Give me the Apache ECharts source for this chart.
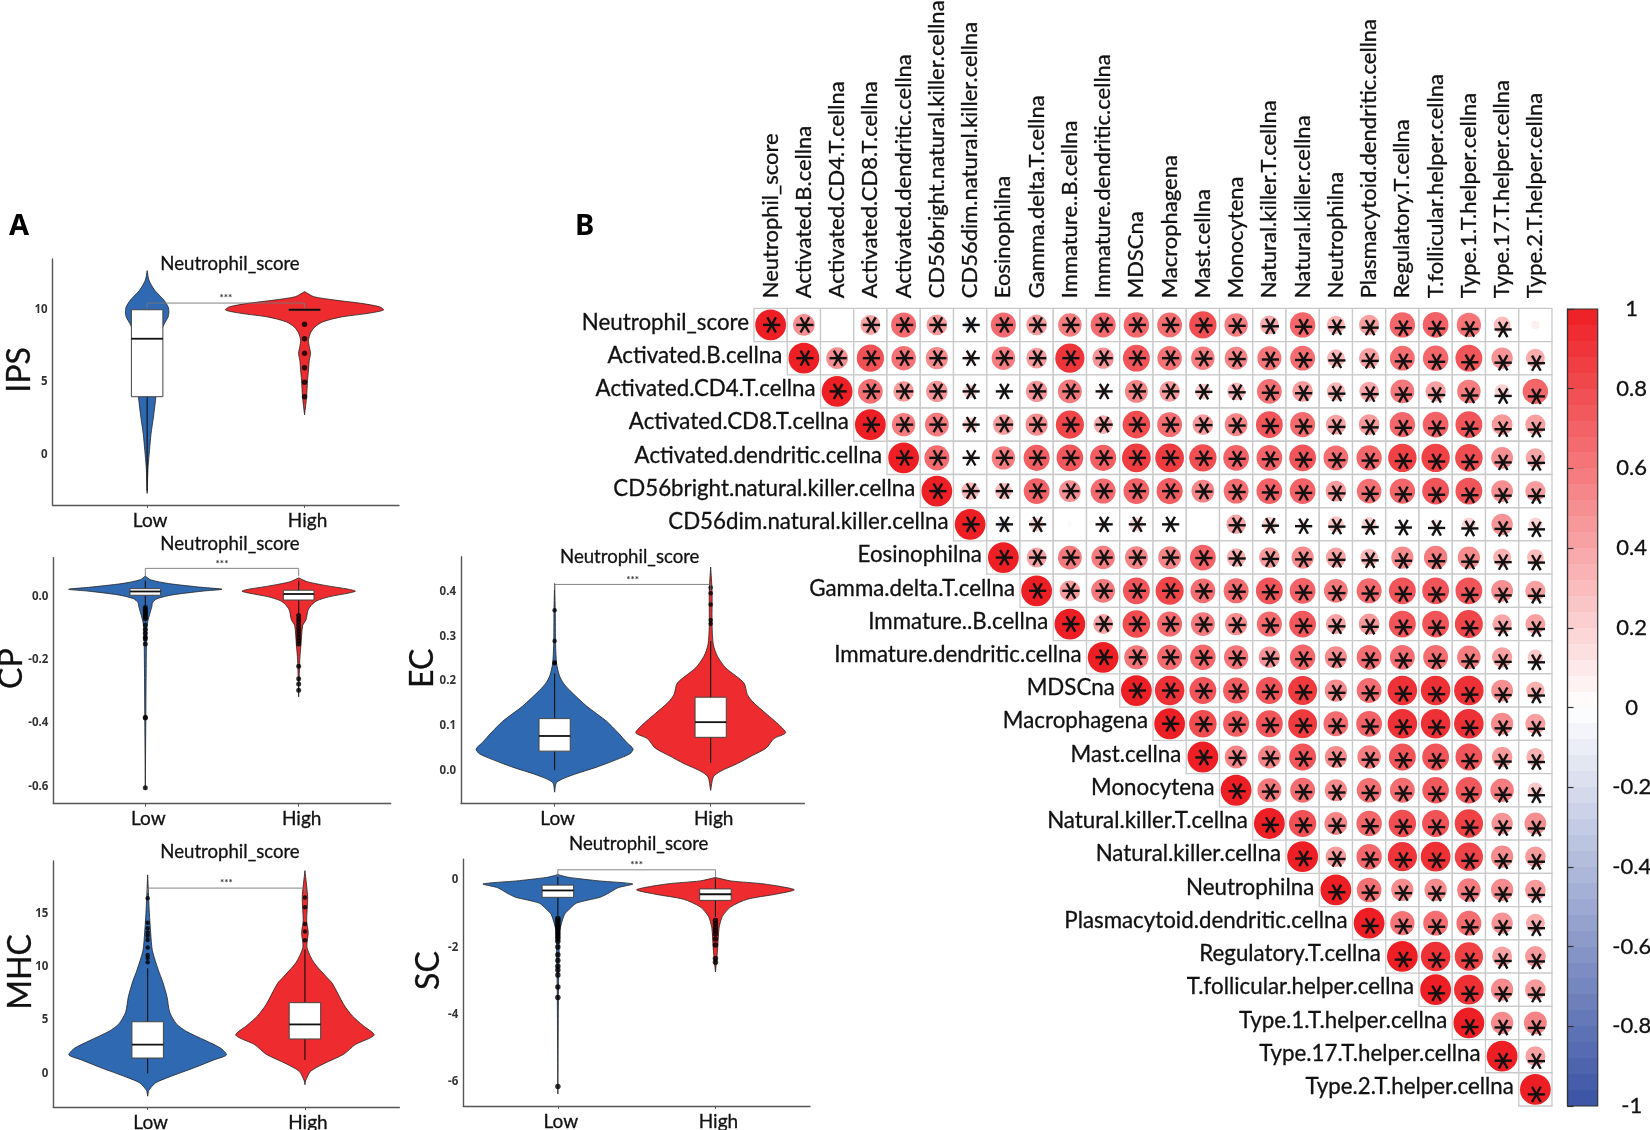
<!DOCTYPE html>
<html>
<head>
<meta charset="utf-8">
<style>html,body{margin:0;padding:0;background:#fff}#chart{width:1650px;height:1130px}</style>
<script src="https://cdn.jsdelivr.net/npm/echarts@6/dist/echarts.min.js"></script>
</head>
<body>
<div id="chart"></div>
<script>
const groupLabels = ['Low', 'High'];
const panelTitle = 'Neutrophil_score';

// violin outlines: [value, half width in group units]
const ipsLowProfile = [[12.7,0],[12.05,.011],[11.36,.047],[10.67,.106],[10.2,.133],[9.86,.138],[9.5,.133],[9.05,.110],[8.4,.085],[6.07,.064],[4,.055],[2.6,.040],[1.47,.025],[.3,.015],[-.83,.006],[-2.67,0]];
const ipsHighProfile = [[11.25,0],[10.9,.059],[10.67,.191],[10.44,.36],[10.2,.477],[9.98,.502],[9.75,.403],[9.5,.233],[9.17,.117],[8.8,.064],[8.4,.038],[7.9,.025],[7.45,.03],[7,.038],[6.5,.03],[5.84,.025],[5.15,.019],[4,.013],[2.75,0]];
const cpLowProfile = [[.065,0],[.053,.033],[.041,.152],[.029,.37],[.023,.5],[.017,.37],[.005,.174],[-.007,.076],[-.019,.048],[-.031,.043],[-.067,.022],[-.092,.011],[-.152,.007],[-.61,0]];
const cpHighProfile = [[.059,0],[.047,.054],[.035,.174],[.023,.326],[.017,.37],[.011,.326],[-.001,.196],[-.013,.12],[-.025,.087],[-.043,.061],[-.073,.048],[-.092,.026],[-.152,.015],[-.2,.007],[-.317,0]];
const mhcLowProfile = [[18.6,0],[16.5,.006],[15,.011],[13.2,.019],[11.5,.03],[9.67,.068],[8.6,.095],[7.16,.123],[5.73,.14],[4.65,.182],[3.94,.245],[3.04,.372],[2.33,.467],[1.72,.501],[1.25,.42],[.54,.3],[-.36,.135],[-.9,.05],[-1.6,.008],[-2.15,0]];
const mhcHighProfile = [[19,0],[16.5,.017],[14.3,.011],[13.2,.021],[11.8,.013],[10.38,.057],[8.95,.142],[8.41,.175],[6.44,.247],[5.37,.302],[4.47,.37],[3.58,.44],[2.69,.32],[1.79,.247],[.9,.12],[.18,.036],[-.72,.004],[-1.07,0]];
const ecLowProfile = [[.419,0],[.359,.004],[.282,.006],[.239,.013],[.213,.03],[.196,.055],[.179,.098],[.144,.205],[.11,.333],[.084,.407],[.063,.461],[.048,.503],[.037,.482],[.024,.397],[.007,.269],[-.01,.119],[-.027,.013],[-.049,0]];
const ecHighProfile = [[.456,0],[.402,.009],[.324,.009],[.282,.017],[.256,.043],[.23,.096],[.196,.213],[.17,.235],[.153,.271],[.127,.356],[.101,.441],[.084,.48],[.071,.405],[.05,.356],[.033,.267],[.015,.171],[-.002,.064],[-.015,.017],[-.045,0]];
const scLowProfile = [[.17,0],[.136,.021],[.08,.072],[-.023,.263],[-.114,.475],[-.227,.381],[-.398,.318],[-.511,.267],[-.682,.119],[-.852,.076],[-1.02,.042],[-1.53,.011],[-2.1,.008],[-3.24,.004],[-6.36,0]];
const scHighProfile = [[.08,0],[-.023,.097],[-.114,.309],[-.284,.5],[-.42,.381],[-.568,.203],[-.795,.097],[-1.08,.044],[-1.42,.023],[-2.1,.013],[-2.73,0]];

// boxes: [lower whisker, q1, median, q3, upper whisker]
const ipsLowBox = [-2.5, 4, 8, 10, 10];
const ipsHighBox = [10, 10, 10, 10, 10];
const cpLowBox = [-.03, .004, .016, .025, .05];
const cpHighBox = [-.055, -.011, .008, .02, .05];
const mhcLowBox = [0, 1.43, 2.69, 4.83, 9.85];
const mhcHighBox = [1.25, 3.22, 4.58, 6.62, 11.6];
const ecLowBox = [0, .043, .077, .116, .217];
const ecHighBox = [.017, .074, .108, .164, .29];
const scLowBox = [-1.06, -.511, -.307, -.148, .11];
const scHighBox = [-1.1, -.602, -.42, -.261, .05];

// outliers
const ipsLowOutliers = [];
const ipsHighOutliers = [9, 8, 7, 6, 5, 4];
const cpLowOutliers = [-.035,-.04,-.045,-.05,-.055,-.06,-.065,-.07,-.09,-.104,-.116,-.128,-.134,-.15,-.381,-.384,-.604];
const cpHighOutliers = [-.06,-.07,-.08,-.09,-.1,-.11,-.12,-.13,-.14,-.15,-.22,-.26,-.276,-.296];
const mhcLowOutliers = [16.4,14.1,13.6,13.2,12.9,12.5,11.8,11.1,10.8,10.4];
const mhcHighOutliers = [16.47,15.57,14,13.3,12.46];
const ecLowOutliers = [.359,.29,.242,.24];
const ecHighOutliers = [.41,.397,.372,.337,.329];
const scLowOutliers = [-1.14,-1.2,-1.27,-1.34,-1.4,-1.47,-1.54,-1.6,-1.67,-1.74,-1.82,-1.99,-2.22,-2.39,-2.56,-2.67,-2.82,-3.18,-3.49,-6.14];
const scHighOutliers = [-1.2,-1.3,-1.4,-1.5,-1.6,-1.75,-1.93,-2.33,-2.44];

// axis ticks
const ipsTicks = [0, 5, 10];
const cpTicks = [-.6, -.4, -.2, 0];
const mhcTicks = [0, 5, 10, 15];
const ecTicks = [0, .1, .2, .3, .4];
const scTicks = [-6, -4, -2, 0];

// significance brackets: [level, tip end]
const ipsBracket = [10.46, 10.1];
const cpBracket = [.089, .065];
const mhcBracket = [17.36, 16.9];
const ecBracket = [.417, .405];
const scBracket = [.307, .1];

// correlation matrix
const cellTypes = ['Neutrophil_score','Activated.B.cellna','Activated.CD4.T.cellna','Activated.CD8.T.cellna','Activated.dendritic.cellna','CD56bright.natural.killer.cellna','CD56dim.natural.killer.cellna','Eosinophilna','Gamma.delta.T.cellna','Immature..B.cellna','Immature.dendritic.cellna','MDSCna','Macrophagena','Mast.cellna','Monocytena','Natural.killer.T.cellna','Natural.killer.cellna','Neutrophilna','Plasmacytoid.dendritic.cellna','Regulatory.T.cellna','T.follicular.helper.cellna','Type.1.T.helper.cellna','Type.17.T.helper.cellna','Type.2.T.helper.cellna'];
const corrRows = [
 [1,.5,-.01,.42,.66,.45,-.15,.66,.45,.58,.66,.68,.65,.79,.58,.38,.68,.35,.43,.68,.7,.62,.3,.07],
 [1,.5,.78,.63,.52,.12,.58,.45,.9,.48,.76,.63,.58,.55,.61,.65,.33,.43,.65,.68,.76,.48,.37],
 [1,.64,.45,.48,.2,.08,.48,.6,.13,.55,.45,.25,.33,.64,.45,.35,.4,.6,.43,.58,.22,.68],
 [1,.58,.6,.22,.45,.52,.83,.38,.8,.65,.45,.55,.76,.66,.42,.45,.68,.7,.76,.46,.43],
 [1,.66,.1,.58,.72,.75,.72,.87,.87,.79,.7,.7,.76,.65,.68,.85,.85,.8,.5,.4],
 [1,.33,.3,.7,.5,.66,.7,.72,.55,.65,.7,.7,.45,.64,.68,.76,.76,.5,.44],
 [1,-.15,.2,.03,.08,.2,.05,-.01,.4,.22,.1,.27,.22,.05,.12,.2,.48,.2],
 [1,.42,.6,.58,.55,.55,.7,.37,.45,.52,.42,.33,.52,.58,.52,.35,.3],
 [1,.45,.6,.76,.83,.65,.66,.76,.7,.6,.66,.76,.76,.76,.5,.43],
 [1,.42,.8,.66,.6,.52,.66,.75,.42,.46,.76,.76,.83,.4,.42],
 [1,.62,.66,.68,.62,.48,.68,.52,.65,.65,.65,.58,.43,.25],
 [1,.92,.76,.72,.76,.88,.52,.65,.92,.92,.92,.5,.35],
 [1,.8,.72,.76,.88,.65,.7,.92,.92,.92,.52,.43],
 [1,.55,.55,.76,.52,.58,.76,.76,.76,.45,.35],
 [1,.6,.65,.52,.64,.65,.74,.74,.58,.25],
 [1,.78,.55,.68,.79,.77,.85,.48,.5],
 [1,.45,.68,.9,.93,.84,.52,.45],
 [1,.64,.52,.52,.58,.52,.45],
 [1,.62,.65,.65,.48,.37],
 [1,.92,.85,.42,.45],
 [1,.93,.52,.45],
 [1,.52,.55],
 [1,.42],
 [1]
];
const nonSignificantCells = [[0,2],[0,23],[6,9],[6,13]];
const colorbarRange = [-1, 1];
const colorPalette = ['#3A53A4', '#FFFFFF', '#ED1F24'];

const BLUE = '#2F69B1', RED = '#EE2B2E', FONT = 'Lato';

const panels = [
 {name:'IPS',  box:[52.7,259,346.3,246], y:[-3.47,13.5], ticks:ipsTicks, titleAt:[230,265.5], gap:17, low:[ipsLowProfile,ipsLowBox,ipsLowOutliers], high:[ipsHighProfile,ipsHighBox,ipsHighOutliers], bracket:ipsBracket, fmt:v=>String(v), size:5.5},
 {name:'CP',   box:[53.3,557.6,337.4,246], y:[-.654,.123], ticks:cpTicks, titleAt:[230,545], gap:26, low:[cpLowProfile,cpLowBox,cpLowOutliers], high:[cpHighProfile,cpHighBox,cpHighOutliers], bracket:cpBracket, fmt:v=>v.toFixed(1), size:5},
 {name:'MHC',  box:[53.3,861,346,246], y:[-3.16,19.9], ticks:mhcTicks, titleAt:[230,853.7], gap:17, low:[mhcLowProfile,mhcLowBox,mhcLowOutliers], high:[mhcHighProfile,mhcHighBox,mhcHighOutliers], bracket:mhcBracket, fmt:v=>String(v), size:4.5},
 {name:'EC',   box:[461,556.8,343.3,246.8], y:[-.0747,.479], ticks:ecTicks, titleAt:[629.7,558], gap:22, low:[ecLowProfile,ecLowBox,ecLowOutliers], high:[ecHighProfile,ecHighBox,ecHighOutliers], bracket:ecBracket, fmt:v=>v.toFixed(1), size:4.5},
 {name:'SC',   box:[463.3,859.1,346.7,246.9], y:[-6.72,.626], ticks:scTicks, titleAt:[638.7,845.5], gap:19, low:[scLowProfile,scLowBox,scLowOutliers], high:[scHighProfile,scHighBox,scHighOutliers], bracket:scBracket, fmt:v=>String(v), size:5.5}
];

const grids = [], xAxes = [], yAxes = [], series = [], titles = [];

function violinSeries(gi, cat, part, color) {
  const [profile, box] = part;
  const boxHalf = 0.1;
  return {
    type: 'custom', xAxisIndex: gi, yAxisIndex: gi, coordinateSystem: 'cartesian2d',
    silent: true, z: 3, data: [[cat, box[2]]],
    renderItem: (params, api) => {
      const right = profile.map(p => api.coord([cat + p[1], p[0]]));
      const left = profile.slice().reverse().map(p => api.coord([cat - p[1], p[0]]));
      const a = api.coord([cat - boxHalf, box[3]]);
      const b = api.coord([cat + boxHalf, box[1]]);
      const m1 = api.coord([cat - boxHalf, box[2]]);
      const m2 = api.coord([cat + boxHalf, box[2]]);
      const w1 = api.coord([cat, box[0]]);
      const w2 = api.coord([cat, box[4]]);
      return {type: 'group', children: [
        {type: 'polygon', shape: {points: right.concat(left), smooth: 0.25}, style: {fill: color, stroke: '#222', lineWidth: 0.8}},
        {type: 'line', shape: {x1: w1[0], y1: w1[1], x2: w2[0], y2: w2[1]}, style: {stroke: '#111', lineWidth: 1.1}},
        {type: 'rect', shape: {x: a[0], y: a[1], width: b[0]-a[0], height: b[1]-a[1]}, style: {fill: '#fff', stroke: '#444', lineWidth: 1}},
        {type: 'line', shape: {x1: m1[0], y1: m1[1], x2: m2[0], y2: m2[1]}, style: {stroke: '#111', lineWidth: 1.8}}
      ]};
    }
  };
}

panels.forEach((p, gi) => {
  grids.push({left: p.box[0], top: p.box[1], width: p.box[2], height: p.box[3], containLabel: false, outerBoundsMode: 'none'});
  xAxes.push({
    type: 'value', gridIndex: gi, min: 0.4, max: 2.6, splitLine: {show: false},
    axisLine: {show: true, onZero: false, lineStyle: {color: '#555', width: 1.4}},
    axisTick: {show: true, length: 3, customValues: [1, 2], lineStyle: {color: '#555'}},
    axisLabel: {show: true, customValues: [1, 2], formatter: v => groupLabels[Math.round(v) - 1], fontFamily: FONT, fontSize: 19, color: '#111', textBorderColor: '#111', textBorderWidth: 0.3, margin: 6, padding: [0, 0, 0, 6], showMinLabel: true, showMaxLabel: true}
  });
  yAxes.push({
    type: 'value', gridIndex: gi, min: p.y[0], max: p.y[1], splitLine: {show: false},
    name: p.name, nameLocation: 'middle', nameRotate: 90, nameGap: p.gap, nameMoveOverlap: false,
    nameTextStyle: {fontFamily: FONT, fontSize: 32, color: '#111', textBorderColor: '#111', textBorderWidth: 0.3, padding: [0, 0, 0, 24]},
    axisLine: {show: true, onZero: false, lineStyle: {color: '#555', width: 1.4}},
    axisTick: {show: false, customValues: p.ticks},
    axisLabel: {show: true, customValues: p.ticks, formatter: p.fmt, fontFamily: 'Noto Sans', fontWeight: 'bold', fontSize: 11.5, color: '#333', margin: 5}
  });
  titles.push({text: panelTitle, left: p.titleAt[0], top: p.titleAt[1] - 11, textAlign: 'center', padding: 0, textStyle: {fontFamily: FONT, fontWeight: 'normal', fontSize: 18.6, color: '#111', textBorderColor: '#111', textBorderWidth: 0.3}});
  series.push(violinSeries(gi, 1, p.low, BLUE));
  series.push(violinSeries(gi, 2, p.high, RED));
  [[1, p.low[2]], [2, p.high[2]]].forEach(([cat, vals]) => {
    series.push({type: 'scatter', xAxisIndex: gi, yAxisIndex: gi, silent: true, z: 5, symbolSize: p.size, itemStyle: {color: '#000'}, data: vals.map(v => [cat, v])});
  });
  series.push({
    type: 'custom', xAxisIndex: gi, yAxisIndex: gi, silent: true, z: 6, data: [[1.5, p.bracket[0]]],
    renderItem: (params, api) => {
      const a = api.coord([1, p.bracket[1]]), b = api.coord([1, p.bracket[0]]);
      const c = api.coord([2, p.bracket[0]]), d = api.coord([2, p.bracket[1]]);
      const m = api.coord([1.5, p.bracket[0]]);
      return {type: 'group', children: [
        {type: 'polyline', shape: {points: [a, b, c, d]}, style: {fill: 'none', stroke: '#777', lineWidth: 0.9}},
        {type: 'text', style: {x: m[0], y: m[1] - 5, text: '***', align: 'center', verticalAlign: 'middle', font: 'bold 10px ' + FONT, fill: '#333'}}
      ]};
    }
  });
});

// correlation heat map
const HG = grids.length;
grids.push({left: 754, top: 308.3, width: 798, height: 797.7, outerBoundsMode: 'none'});
xAxes.push({
  type: 'category', gridIndex: HG, position: 'top', data: cellTypes, boundaryGap: true,
  axisLine: {show: false}, axisTick: {show: false}, splitLine: {show: false},
  axisLabel: {interval: 0, rotate: -90, margin: 10, fontFamily: FONT, fontSize: 22, color: '#111', textBorderColor: '#111', textBorderWidth: 0.3}
});
yAxes.push({type: 'category', gridIndex: HG, inverse: true, data: cellTypes, boundaryGap: true, axisLine: {show: false}, axisTick: {show: false}, axisLabel: {show: false}, splitLine: {show: false}});
const corrData = [];
corrRows.forEach((vals, r) => vals.forEach((v, k) => corrData.push([r + k, r, v])));
const isBlank = (r, c) => nonSignificantCells.some(n => n[0] === r && n[1] === c);
const HS = series.length;
series.push({
  type: 'custom', xAxisIndex: HG, yAxisIndex: HG, silent: true, z: 3, data: corrData, encode: {x: 0, y: 1},
  renderItem: (params, api) => {
    const col = api.value(0), row = api.value(1), v = api.value(2);
    const c = api.coord([col, row]), s = api.size([1, 1]);
    const kids = [
      {type: 'rect', shape: {x: c[0]-s[0]/2, y: c[1]-s[1]/2, width: s[0], height: s[1]}, style: {fill: '#fff', stroke: '#C9C9C9', lineWidth: 1.3}},
      {type: 'circle', shape: {cx: c[0], cy: c[1], r: Math.sqrt(Math.abs(v)) * 15.4}, style: {fill: api.visual('color')}}
    ];
    if (!isBlank(row, col)) {
      const ax = c[0] + 1, ay = c[1] + Math.max(0, Math.min(1, (col - 12) / 11)) * 5;
      [[8.6, 0], [4.3, 7.6], [4.3, -7.6]].forEach(d => kids.push({
        type: 'line', shape: {x1: ax-d[0], y1: ay-d[1], x2: ax+d[0], y2: ay+d[1]}, style: {stroke: '#111', lineWidth: 2.4}
      }));
    }
    if (col === row) {
      kids.push({type: 'text', style: {x: c[0]-s[0]/2-5, y: c[1]-2.5, text: cellTypes[row], align: 'right', verticalAlign: 'middle', font: '22.3px ' + FONT, fill: '#111', stroke: '#111', lineWidth: 0.3}});
    }
    return {type: 'group', children: kids};
  }
});

// colour bar: stepped gradient (bands as in the original legend), frame and scale
const bandStops = [];
const BANDS = 50;
for (let i = 0; i < BANDS; i++) {
  const col = echarts.color.lerp(1 - (i + 0.5) / BANDS, colorPalette);
  bandStops.push({offset: i / BANDS, color: col}, {offset: (i + 1) / BANDS, color: col});
}
const CG = grids.length;
grids.push({left: 1567.5, top: 309, width: 30.2, height: 797, show: true, borderColor: '#333', borderWidth: 1.2, backgroundColor: 'transparent', z: 10, outerBoundsMode: 'none'});
xAxes.push({type: 'value', gridIndex: CG, min: 0, max: 1, show: false});
yAxes.push({
  type: 'value', gridIndex: CG, position: 'right', min: colorbarRange[0], max: colorbarRange[1], interval: 0.2, z: 10,
  splitLine: {show: false},
  axisLine: {show: true, lineStyle: {color: '#333', width: 1.2}},
  axisTick: {show: true, length: 6, lineStyle: {color: '#333', width: 1.2}},
  axisLabel: {margin: 34, align: 'center', fontFamily: FONT, fontSize: 22, color: '#111', textBorderColor: '#111', textBorderWidth: 0.3, showMinLabel: true, showMaxLabel: true, formatter: v => String(Math.round(v * 10) / 10)}
});
series.push({
  type: 'custom', xAxisIndex: CG, yAxisIndex: CG, silent: true, z: 1, data: [[0.5, 0]],
  renderItem: (params, api) => {
    const a = api.coord([0, colorbarRange[1]]), b = api.coord([1, colorbarRange[0]]);
    return {type: 'rect', shape: {x: a[0], y: a[1], width: b[0]-a[0], height: b[1]-a[1]},
      style: {fill: new echarts.graphic.LinearGradient(0, 0, 0, 1, bandStops)}};
  }
});

const chart = echarts.init(document.getElementById('chart'), null, {renderer: 'canvas'});
chart.setOption({
  animation: false,
  backgroundColor: '#fff',
  title: titles,
  grid: grids, xAxis: xAxes, yAxis: yAxes, series: series,
  visualMap: [{
    type: 'continuous', show: false, min: -1, max: 1, dimension: 2, seriesIndex: HS,
    inRange: {color: colorPalette}
  }],
  graphic: [
    {type: 'text', left: 9, top: 212, style: {text: 'A', font: 'bold 29px ' + 'Noto Sans', fill: '#000'}},
    {type: 'text', left: 575, top: 212, style: {text: 'B', font: 'bold 29px ' + 'Noto Sans', fill: '#000'}}
  ]
});
</script>
</body>
</html>
